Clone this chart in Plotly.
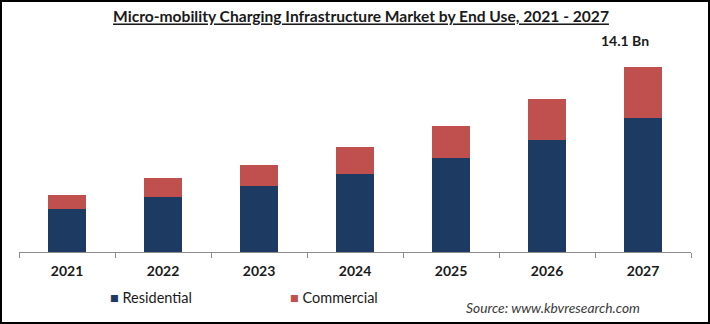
import plotly.graph_objects as go

years = ["2021", "2022", "2023", "2024", "2025", "2026", "2027"]
residential = [3.27, 4.21, 5.02, 5.94, 7.15, 8.52, 10.22]
commercial = [1.07, 1.40, 1.60, 2.05, 2.43, 3.12, 3.88]
total_label = "14.1 Bn"
series_names = ["Residential", "Commercial"]
series_colors = ["#1D3A63", "#C0504D"]

W, H = 710, 324
ML, MR, MT, MB = 19, 19, 55, 72
PW, PH = W - ML - MR, H - MT - MB

fig = go.Figure()
for name, vals, col in zip(series_names, [residential, commercial], series_colors):
    fig.add_trace(go.Bar(x=years, y=vals, name=name,
                         marker=dict(color=col, line=dict(width=0))))

font_family = "Lato, Open Sans, sans-serif"

fig.update_layout(
    width=W, height=H,
    margin=dict(l=ML, r=MR, t=MT, b=MB),
    barmode="stack", bargap=0.6,
    plot_bgcolor="white", paper_bgcolor="white",
    font=dict(family=font_family, color="#1a1a1a"),
    title=dict(text="<b>Micro-mobility Charging Infrastructure Market by End Use, 2021 - 2027</b>",
               x=361 / W, xanchor="center", y=1 - 17 / H, yanchor="middle",
               font=dict(size=15.6, color="#1a1a1a", family=font_family, lineposition="under")),
    xaxis=dict(type="category", categoryorder="array", categoryarray=years,
               range=[-0.5, len(years) - 0.5],
               showline=True, linecolor="#8c8c8c", linewidth=1,
               ticks="outside", tickson="boundaries", ticklen=5, tickcolor="#8c8c8c",
               ticklabelstandoff=6,
               tickfont=dict(size=14, color="#1a1a1a", family=font_family, weight="bold"),
               showgrid=False),
    yaxis=dict(range=[0, 15], showticklabels=False, showgrid=False, zeroline=False,
               showline=False, ticks=""),
    showlegend=False,
)

# manual legend (library annotations)
legend_x = [108, 288]
for name, col, lx in zip(series_names, series_colors, legend_x):
    fig.add_annotation(xref="paper", yref="paper", x=(lx - ML) / PW, y=(252 - 297) / PH,
                       xanchor="left", yanchor="middle", showarrow=False,
                       text=f"<span style='color:{col}'>■</span> {name}",
                       font=dict(size=14.5, color="#1a1a1a", family=font_family))

fig.add_annotation(x=len(years) - 1, y=residential[-1] + commercial[-1],
                   text="<b>" + total_label + "</b>",
                   showarrow=False, xshift=-18, yshift=16, yanchor="bottom",
                   font=dict(size=14, color="#1a1a1a", family=font_family))

fig.add_annotation(xref="paper", yref="paper", x=(642 - ML) / PW, y=(252 - 307) / PH,
                   xanchor="right", yanchor="middle", showarrow=False,
                   text="<i>Source: www.kbvresearch.com</i>",
                   font=dict(size=13.8, color="#3a3a3a", family=font_family))

fig.add_shape(type="rect", xref="paper", yref="paper",
              x0=(1 - ML) / PW, x1=(W - 1 - ML) / PW,
              y0=-(MB - 1) / PH, y1=1 + (MT - 1) / PH,
              line=dict(color="black", width=2), fillcolor="rgba(0,0,0,0)", layer="above")

fig.write_html("out.html")
